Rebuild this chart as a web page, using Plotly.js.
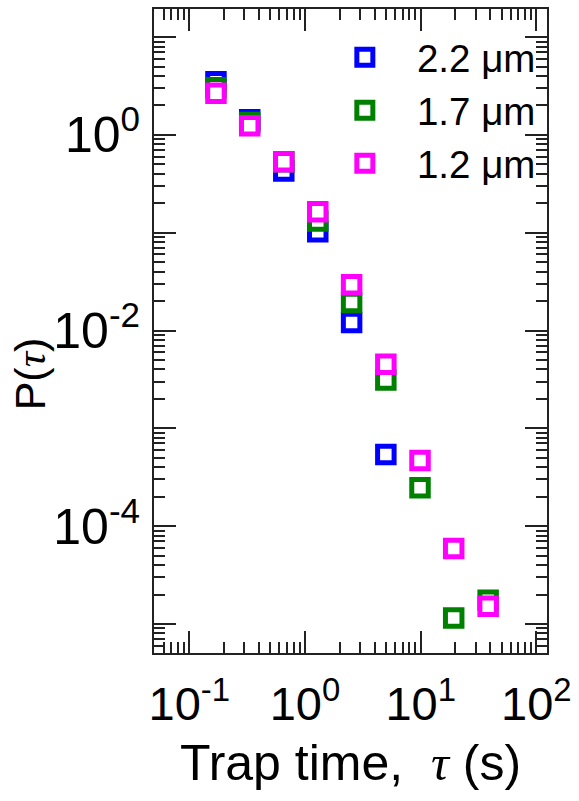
<!DOCTYPE html>
<html>
<head>
<meta charset="utf-8">
<script src="https://cdn.plot.ly/plotly-3.0.1.min.js"></script>
<style>html,body{margin:0;padding:0;background:#fff;}#chart{width:579px;height:801px;}</style>
</head>
<body>
<div id="chart"></div>
<script>
// Trap time (s)
const tau = [0.17, 0.333, 0.656, 1.29, 2.53, 5.0, 9.87, 19.3, 38.3];
// P(tau) for each bead size
const p22 = [3.5, 1.43, 0.428, 0.102, 0.01205, 5.4e-4];
const p17 = [3.03, 1.34, 0.53, 0.132, 0.0193, 0.00312, 2.47e-4, 1.15e-5, 1.75e-5];
const p12 = [2.66, 1.24, 0.532, 0.164, 0.0293, 0.00451, 4.69e-4, 5.9e-5, 1.52e-5];
const seriesNames = ['2.2 μm', '1.7 μm', '1.2 μm'];
const seriesColors = ['#0000ff', '#008000', '#ff00ff'];
const xTickVals = [0.1, 1, 10, 100];
const xTickText = ['10<sup>-1</sup>', '10<sup>0</sup>', '10<sup>1</sup>', '10<sup>2</sup>'];
const yTickVals = [10, 1, 0.1, 0.01, 0.001, 1e-4, 1e-5];
const yTickText = ['', '10<sup>0</sup>', '', '10<sup>-2</sup>', '', '10<sup>-4</sup>', ''];

const ys = [p22, p17, p12];
const traces = ys.map((y, i) => ({
  type: 'scatter', mode: 'markers',
  x: tau.slice(0, y.length), y: y,
  name: '\u00a0\u00a0\u00a0' + seriesNames[i],
  marker: {symbol: 'square', size: 16.5, color: '#ffffff', line: {color: seriesColors[i], width: 5}}
}));

const axisCommon = {
  type: 'log', showline: true, linecolor: '#222', linewidth: 2, mirror: 'allticks',
  ticks: 'inside', ticklen: 22, tickwidth: 2, tickcolor: '#222',
  showgrid: false, zeroline: false, tickmode: 'array',
  minor: {ticks: 'inside', ticklen: 11, tickwidth: 2, tickcolor: '#222', dtick: 'D1', showgrid: false}
};

const layout = {
  width: 579, height: 801,
  margin: {l: 154, r: 31.7, t: 9.3, b: 148.3},
  paper_bgcolor: '#fff', plot_bgcolor: '#fff',
  font: {family: 'Liberation Sans, Arial, sans-serif', color: '#000'},
  showlegend: true,
  legend: {x: 0.4856, y: 0.974, xanchor: 'left', yanchor: 'top', bgcolor: 'rgba(0,0,0,0)',
           font: {size: 38.5, color: '#000'}},
  xaxis: Object.assign({}, axisCommon, {
    range: [-1.305, 2.092], tickvals: xTickVals, ticktext: xTickText,
    tickfont: {size: 47}, ticklabelstandoff: 9,
    title: {text: 'Trap time,  <span style="font-family:Liberation Serif;font-style:italic">τ</span> (s)', font: {size: 50}, standoff: 16}
  }),
  yaxis: Object.assign({}, axisCommon, {
    range: [-5.297, 1.287], tickvals: yTickVals, ticktext: yTickText,
    tickfont: {size: 50}, ticklabelstandoff: 2
  }),
  annotations: [{
    text: 'P(<span style="font-family:Liberation Serif;font-style:italic">τ</span>)',
    xref: 'paper', yref: 'paper', x: -0.315, y: 0.433, xanchor: 'center', yanchor: 'middle',
    textangle: -90, showarrow: false, font: {size: 43, color: '#000'}
  }]
};

Plotly.newPlot('chart', traces, layout, {displayModeBar: false, staticPlot: true});
</script>
</body>
</html>
